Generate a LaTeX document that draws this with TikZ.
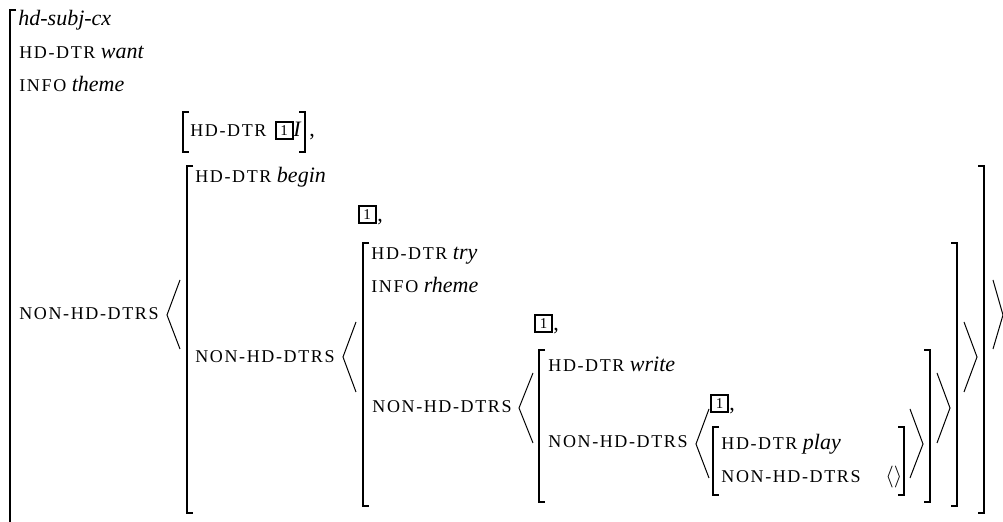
\documentclass[tikz,border=0pt]{standalone}
\usepackage{fontspec}
\setmainfont{Liberation Serif}
\newcommand{\fs}[1]{{\fontsize{9}{10}\selectfont\addfontfeature{LetterSpace=9}#1}}

\begin{document}
\begin{tikzpicture}[x=0.5pt,y=-0.5pt,
  txt/.style={anchor=base west,inner sep=0pt,font=\fontsize{11}{13}\selectfont},
  brk/.style={line width=0.6pt},
  ang/.style={line width=0.5pt},
  tagbox/.style={draw,line width=1pt,inner sep=0pt,minimum size=8.5pt,font=\fontsize{7.5}{8}\selectfont}]
  \useasboundingbox (0,0) rectangle (1003,522);

  % outer avm
  \draw[brk] (16,10) -- (10,10) -- (10,530);
  \node[txt] (type0) at (18,26) {\emph{hd-subj-cx}};
  \node[txt] (hd0) at (19,59) {\fs{HD-DTR} \emph{want}};
  \node[txt] (info0) at (19,92) {\fs{INFO} \emph{theme}};
  \node[txt] (nhd0) at (19,320) {\fs{NON-HD-DTRS}};
  \draw[ang] (180,280) -- (167,315) -- (180,349);
  \draw[ang] (993,280) -- (1003,315) -- (993,349);

  % subject daughter
  \draw[brk] (189,112) -- (183,112) -- (183,152) -- (189,152);
  \node[txt] (hd1) at (190,137) {\fs{HD-DTR}};
  \node[tagbox] (tag1) at (284,131) {1};
  \node[txt] (subj1) at (293,137) {\emph{I}};
  \draw[brk] (299,112) -- (305,112) -- (305,152) -- (299,152);
  \node[txt] (comma1) at (309,137) {,};

  % begin
  \draw[brk] (193,166) -- (187,166) -- (187,513) -- (193,513);
  \draw[brk] (978,166) -- (984,166) -- (984,513) -- (978,513);
  \node[txt] (hd2) at (195,183) {\fs{HD-DTR} \emph{begin}};
  \node[txt] (nhd2) at (195,363) {\fs{NON-HD-DTRS}};
  \draw[ang] (356,322) -- (343,357) -- (356,392);
  \draw[ang] (964,322) -- (977,357) -- (964,392);
  \node[tagbox] (tag2) at (367,215) {1};
  \node[txt] (comma2) at (377,222) {,};

  % try
  \draw[brk] (369,243) -- (363,243) -- (363,506) -- (369,506);
  \draw[brk] (951,243) -- (957,243) -- (957,506) -- (951,506);
  \node[txt] (hd3) at (371,260) {\fs{HD-DTR} \emph{try}};
  \node[txt] (info3) at (371,293) {\fs{INFO} \emph{rheme}};
  \node[txt] (nhd3) at (372,413) {\fs{NON-HD-DTRS}};
  \draw[ang] (533,373) -- (519,408) -- (533,443);
  \draw[ang] (937,373) -- (950,408) -- (937,443);
  \node[tagbox] (tag3) at (543.5,324) {1};
  \node[txt] (comma3) at (553,331) {,};

  % write
  \draw[brk] (545,350) -- (539,350) -- (539,502) -- (545,502);
  \draw[brk] (924,350) -- (930,350) -- (930,502) -- (924,502);
  \node[txt] (hd4) at (548,372) {\fs{HD-DTR} \emph{write}};
  \node[txt] (nhd4) at (548,448) {\fs{NON-HD-DTRS}};
  \draw[ang] (709,409) -- (696,444) -- (709,478);
  \draw[ang] (910,409) -- (923,444) -- (910,478);
  \node[tagbox] (tag4) at (719.5,403.5) {1};
  \node[txt] (comma4) at (729,411) {,};

  % play
  \draw[brk] (719,427) -- (713,427) -- (713,495) -- (719,495);
  \draw[brk] (898,427) -- (904,427) -- (904,495) -- (898,495);
  \node[txt] (hd5) at (721,450) {\fs{HD-DTR} \emph{play}};
  \node[txt] (nhd5) at (721,483) {\fs{NON-HD-DTRS}};
  \node[txt] (empty5) at (885,483) {$\langle\rangle$};
\end{tikzpicture}
\end{document}
